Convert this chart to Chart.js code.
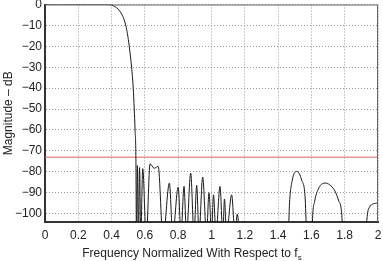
<!DOCTYPE html>
<html>
<head>
<meta charset="utf-8">
<script src="https://cdn.jsdelivr.net/npm/chart.js@4.4.0/dist/chart.umd.min.js"></script>
<style>
  html, body { margin: 0; padding: 0; background: #fff; }
</style>
</head>
<body>
<canvas id="responseChart" width="383" height="261"></canvas>
<script>
// Filter magnitude response
const responseFreq = [
  0, 0.1, 0.2, 0.3, 0.38, 0.40, 0.42, 0.44, 0.46, 0.475, 0.485, 0.495, 0.506, 0.52, 0.53, 0.536, 0.541, 0.546,
  0.549, 0.555, 0.561, 0.568, 0.575, 0.587, 0.608, 0.631, 0.656, 0.68, 0.709,
  0.747, 0.767, 0.80, 0.817, 0.835, 0.85, 0.875, 0.895, 0.911, 0.925, 0.947, 0.97,
  0.985, 1.0, 1.012, 1.027, 1.051, 1.068, 1.078, 1.09, 1.121, 1.141, 1.155, 1.17,
  1.455, 1.468, 1.485, 1.512, 1.542, 1.562, 1.58,
  1.60, 1.606, 1.62, 1.64, 1.66, 1.682, 1.71, 1.74, 1.765, 1.785, 1.79,
  1.905, 1.942, 1.99, 2.0
];
const responseMag = [
  0, 0, 0, 0, 0, -0.3, -1, -2.3, -4.5, -7.2, -10, -14, -20, -30, -40, -50, -60, -74.5,
  -112, -77, -112, -78, -112, -78.5, -112, -76.2, -78.3, -77.4, -112,
  -85.4, -110, -87.4, -110, -87, -110, -80.6, -110, -86.5, -110, -82.5, -110,
  -90, -110, -91, -110, -87, -110, -93, -110, -91, -110, -100.2, -110,
  -125, -96, -84, -79.8, -84, -92, -125,
  -125, -104, -94, -88.5, -86, -85.4, -86.2, -89, -94, -104, -125,
  -125, -98, -95, -94.8
];

// Stopband limit line
const limitFreq = [0, 2];
const limitMag = [-73, -73];

// Axis ticks
const xTickValues = [0, 0.2, 0.4, 0.6, 0.8, 1, 1.2, 1.4, 1.6, 1.8, 2];
const xTickLabels = ['0', '0.2', '0.4', '0.6', '0.8', '1', '1.2', '1.4', '1.6', '1.8', '2'];
const yTickValues = [0, -10, -20, -30, -40, -50, -60, -70, -80, -90, -100];

const fontFamily = '"Liberation Sans", Arial, Helvetica, sans-serif';

function toPoints(xs, ys) {
    return xs.map((x, i) => ({ x: x, y: ys[i] }));
}

// Draw the thin box edges and the x title with its subscript
const frameAndTitle = {
    id: 'frameAndTitle',
    afterDatasetsDraw(chart) {
        const { ctx, chartArea: a } = chart;
        ctx.save();
        ctx.strokeStyle = '#666';
        ctx.lineWidth = 1;
        ctx.beginPath();
        ctx.moveTo(a.left, a.top + 0.5);
        ctx.lineTo(a.right - 0.5, a.top + 0.5);
        ctx.lineTo(a.right - 0.5, a.bottom);
        ctx.stroke();
        ctx.restore();
    },
    afterDraw(chart) {
        const ctx = chart.ctx;
        const main = 'Frequency Normalized With Respect to f';
        const sub = 's';
        ctx.save();
        ctx.fillStyle = '#222';
        ctx.textBaseline = 'alphabetic';
        ctx.font = '12px ' + fontFamily;
        const w1 = ctx.measureText(main).width;
        ctx.font = '8px ' + fontFamily;
        const w2 = ctx.measureText(sub).width;
        const x0 = 192 - (w1 + w2) / 2;
        ctx.font = '12px ' + fontFamily;
        ctx.fillText(main, x0, 257);
        ctx.font = '8px ' + fontFamily;
        ctx.fillText(sub, x0 + w1, 259.5);
        ctx.restore();
    }
};

const chart = new Chart(document.getElementById('responseChart'), {
    type: 'line',
    data: {
        datasets: [{
            label: 'Magnitude',
            data: toPoints(responseFreq, responseMag),
            borderColor: '#1a1a1a',
            borderWidth: 1,
            pointRadius: 0,
            cubicInterpolationMode: 'monotone',
            fill: false
        }, {
            label: 'Limit',
            data: toPoints(limitFreq, limitMag),
            borderColor: 'rgb(228, 96, 96)',
            borderWidth: 1,
            pointRadius: 0,
            fill: false
        }]
    },
    options: {
        responsive: false,
        animation: false,
        devicePixelRatio: 1,
        layout: { padding: { top: 4.5, right: 5, left: 0, bottom: 0 } },
        plugins: {
            legend: { display: false },
            tooltip: { enabled: false }
        },
        scales: {
            x: {
                type: 'linear',
                min: 0,
                max: 2,
                afterBuildTicks: scale => { scale.ticks = xTickValues.map(v => ({ value: v })); },
                afterFit: scale => {
                    scale.height = 39;
                    scale.paddingLeft = 0;
                    scale.paddingRight = 0;
                },
                ticks: {
                    padding: 6,
                    color: '#222',
                    font: { family: fontFamily, size: 12 },
                    maxRotation: 0,
                    autoSkip: false,
                    callback: (v, i) => xTickLabels[i]
                },
                grid: { color: '#999', lineWidth: 1, drawTicks: false },
                border: { display: true, width: 2, color: '#333', dash: [1, 2] }
            },
            y: {
                type: 'linear',
                min: -104,
                max: 0,
                afterBuildTicks: scale => { scale.ticks = yTickValues.map(v => ({ value: v })); },
                afterFit: scale => {
                    scale.width = 45;
                    scale.paddingTop = 0;
                    scale.paddingBottom = 0;
                },
                ticks: {
                    padding: 3,
                    color: '#222',
                    font: { family: fontFamily, size: 12 },
                    autoSkip: false,
                    callback: v => (v < 0 ? '\u2212' + Math.abs(v) : String(v))
                },
                grid: { color: '#999', lineWidth: 1, drawTicks: false },
                border: { display: true, width: 2, color: '#333', dash: [1, 2] },
                title: {
                    display: true,
                    text: 'Magnitude \u2013 dB',
                    color: '#222',
                    font: { family: fontFamily, size: 12 },
                    padding: { top: 1, bottom: 0 }
                }
            }
        }
    },
    plugins: [frameAndTitle]
});
</script>
</body>
</html>
